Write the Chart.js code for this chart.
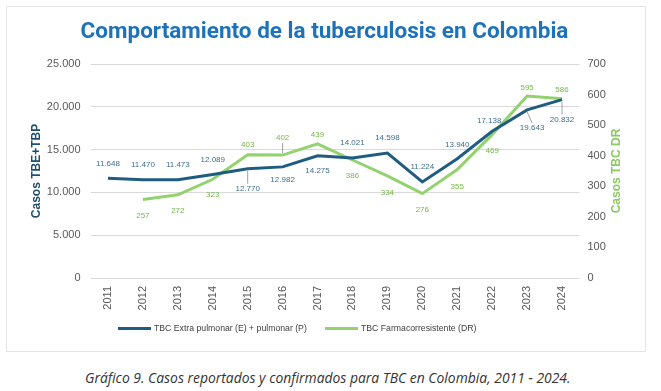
<!DOCTYPE html>
<html>
<head>
<meta charset="utf-8">
<script src="https://cdn.jsdelivr.net/npm/chart.js@4"></script>
<style>
  body { margin: 0; background: #fff; font-family: "Liberation Sans", Arial, sans-serif; }
  #panel { position: absolute; left: 6px; top: 6px; width: 638px; height: 344px; border: 1px solid #e4e4e4; }
  #legend { position: absolute; left: 0; top: 316px; width: 100%; font-size: 8.7px; color: #404040; }
  .item { position: absolute; display: flex; align-items: center; white-space: nowrap; }
  .swatch { display: inline-block; width: 33px; height: 3px; margin-right: 3px; }
  #caption { position: absolute; left: 85px; top: 368px; font: italic 13.9px "Open Sans", sans-serif; color: #333; }
</style>
</head>
<body>
<div id="panel">
  <canvas id="chart"></canvas>
  <div id="legend"></div>
</div>
<div id="caption">Gráfico 9. Casos reportados y confirmados para TBC en Colombia, 2011 - 2024.</div>
<script>
/* ============================
   DATA
============================ */
const years = ["2011", "2012", "2013", "2014", "2015", "2016", "2017",
               "2018", "2019", "2020", "2021", "2022", "2023", "2024"];
const casosEP = [11648, 11470, 11473, 12089, 12770, 12982, 14275,
                 14021, 14598, 11224, 13940, 17138, 19643, 20832];
const casosDR = [null, 257, 272, 323, 403, 402, 439,
                 386, 334, 276, 355, 469, 595, 586];
const seriesNames = ["TBC Extra pulmonar (E) + pulmonar (P)", "TBC Farmacorresistente (DR)"];

const BLUE = "#1f5c7f";
const GREEN = "#93d26f";

// label offsets [dx, dy, leader]
const epLabelPos = [[0,-14],[0,-15],[0,-15],[0,-15],[0,20,1],[0,13],[0,15],
                    [0,-15],[0,-15],[0,-15],[0,-14],[-3,-11],[5,18,1],[0,20,1]];
const drLabelPos = [null,[0,16],[0,16],[0,16],[0,-10],[0,-17,1],[0,-9],
                    [0,16],[0,17],[0,16],[0,17],[0,16],[0,-8],[0,-9]];

function fmt(v) {
  return String(v).replace(/\B(?=(\d{3})+(?!\d))/g, ".");
}

/* ============================
   PLUGINS
============================ */
const pointLabels = {
  id: "pointLabels",
  afterDatasetsDraw(chart) {
    const ctx = chart.ctx;
    const sets = [
      { idx: 0, pos: epLabelPos, color: "#3d6f8e" },
      { idx: 1, pos: drLabelPos, color: "#74b84c" }
    ];
    ctx.save();
    ctx.font = "8px 'Liberation Sans', Arial, sans-serif";
    ctx.textAlign = "center";
    ctx.textBaseline = "middle";
    sets.forEach(s => {
      const meta = chart.getDatasetMeta(s.idx);
      const data = chart.data.datasets[s.idx].data;
      meta.data.forEach((pt, i) => {
        const p = s.pos[i];
        if (data[i] == null || !p) return;
        const x = pt.x + p[0], y = pt.y + p[1];
        if (p[2]) {
          ctx.strokeStyle = "#8c8c8c";
          ctx.lineWidth = 0.8;
          ctx.beginPath();
          const sy = p[1] > 0 ? y - 5 : y + 5;
          ctx.moveTo(x, sy);
          ctx.lineTo(pt.x, pt.y + (p[1] > 0 ? 2 : -2));
          ctx.stroke();
        }
        ctx.fillStyle = s.color;
        ctx.fillText(fmt(data[i]), x, y);
      });
    });
    ctx.restore();
  }
};

// right axis title, reading bottom to top like the left one
const rightTitle = {
  id: "rightTitle",
  afterDraw(chart) {
    const ctx = chart.ctx, area = chart.chartArea;
    ctx.save();
    ctx.translate(610, (area.top + area.bottom) / 2);
    ctx.rotate(-Math.PI / 2);
    ctx.font = "bold 12px 'Liberation Sans', Arial, sans-serif";
    ctx.fillStyle = "#8cc964";
    ctx.textAlign = "center";
    ctx.textBaseline = "middle";
    ctx.fillText("Casos TBC DR", 0, 0);
    ctx.restore();
  }
};

/* ============================
   CHART
============================ */
const tickFont = { family: "'Liberation Sans', Arial, sans-serif", size: 11 };

new Chart(document.getElementById("chart"), {
  type: "line",
  data: {
    labels: years,
    datasets: [
      { label: seriesNames[0], data: casosEP, borderColor: BLUE, backgroundColor: BLUE,
        borderWidth: 3, pointRadius: 0, tension: 0, yAxisID: "y" },
      { label: seriesNames[1], data: casosDR, borderColor: GREEN, backgroundColor: GREEN,
        borderWidth: 3, pointRadius: 0, tension: 0, yAxisID: "y1" }
    ]
  },
  options: {
    responsive: true,
    maintainAspectRatio: false,
    animation: false,
    layout: { padding: { left: 18, right: 21, top: 0, bottom: 0 } },
    plugins: {
      legend: { display: false },
      tooltip: { enabled: false },
      title: {
        display: true,
        text: "Comportamiento de la tuberculosis en Colombia",
        color: "#1d72bb",
        font: { family: "Roboto, sans-serif", size: 22.5, weight: "bold" },
        padding: { top: 12, bottom: 18 }
      }
    },
    scales: {
      x: {
        offset: true,
        grid: { display: false, drawTicks: false, offset: true },
        border: { display: false },
        ticks: { color: "#595959", font: tickFont, minRotation: 90, maxRotation: 90, padding: 8 },
        afterFit: s => { s.height = 73; }
      },
      y: {
        position: "left",
        min: 0, max: 25000,
        ticks: { stepSize: 5000, color: "#595959", font: tickFont, padding: 10, callback: v => fmt(v) },
        grid: { color: "#d9d9d9", drawTicks: false },
        border: { display: false },
        title: { display: true, text: "Casos TBE+TBP", color: "#1f4e6e",
                 font: { family: "'Liberation Sans', Arial, sans-serif", size: 12, weight: "bold" } },
        afterFit: s => { s.width = 65.5; }
      },
      y1: {
        position: "right",
        min: 0, max: 700,
        ticks: { stepSize: 100, color: "#595959", font: tickFont, padding: 8 },
        grid: { display: false, drawTicks: false },
        border: { display: false },
        afterFit: s => { s.width = 44.5; }
      }
    }
  },
  plugins: [pointLabels, rightTitle]
});

/* HTML legend */
const legend = document.getElementById("legend");
[[seriesNames[0], BLUE, 111], [seriesNames[1], GREEN, 318]].forEach(([name, color, left]) => {
  const el = document.createElement("div");
  el.className = "item";
  el.style.left = left + "px";
  el.innerHTML = '<span class="swatch" style="background:' + color + '"></span>' + name;
  legend.appendChild(el);
});
</script>
</body>
</html>
